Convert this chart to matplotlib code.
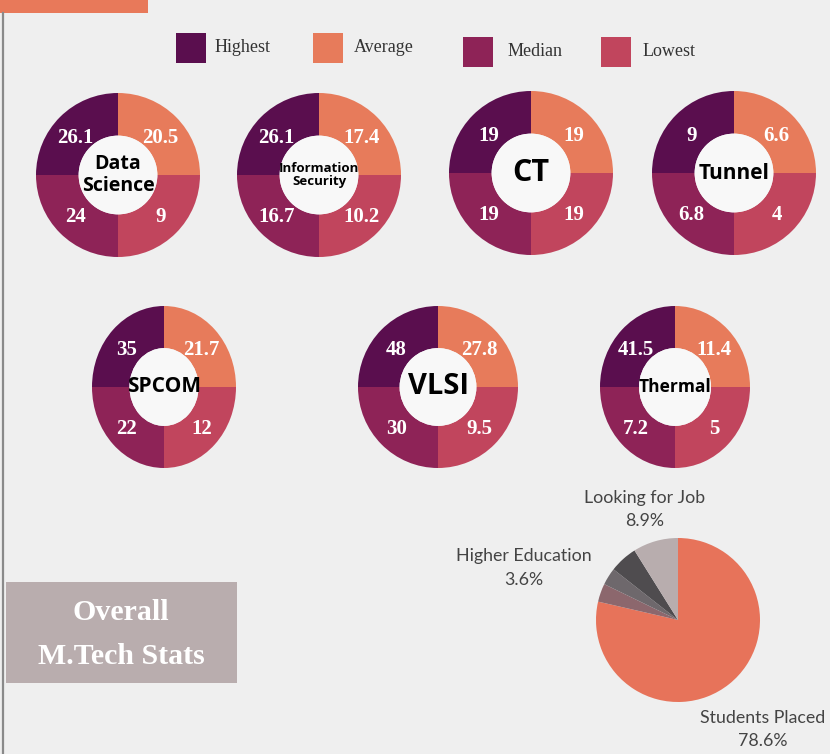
import numpy as np
import matplotlib
matplotlib.use("Agg")
import matplotlib.pyplot as plt
from matplotlib.patches import Rectangle, Ellipse

# ---------------- data ----------------
metrics = ["Highest", "Average", "Median", "Lowest"]
metric_colors = ["#5a0e4e", "#e77b5b", "#8e2357", "#c1455d"]

programs = ["Data\nScience", "Information\nSecurity", "CT", "Tunnel",
            "SPCOM", "VLSI", "Thermal"]
highest = [26.1, 26.1, 19, 9, 35, 48, 41.5]
average = [20.5, 17.4, 19, 6.6, 21.7, 27.8, 11.4]
median = [24, 16.7, 19, 6.8, 22, 30, 7.2]
lowest = [9, 10.2, 19, 4, 12, 9.5, 5]
value_labels = [
    ["26.1", "20.5", "24", "9"],
    ["26.1", "17.4", "16.7", "10.2"],
    ["19", "19", "19", "19"],
    ["9", "6.6", "6.8", "4"],
    ["35", "21.7", "22", "12"],
    ["48", "27.8", "30", "9.5"],
    ["41.5", "11.4", "7.2", "5"],
]

status_labels = ["Students Placed", "", "", "", "Looking for Job"]
status_values = [78.6, 3.6, 3.4, 5.5, 8.9]
status_colors = ["#e7735a", "#8c676d", "#6e686c", "#4f4c4f", "#b8adae"]
higher_edu_label = "Higher Education"
higher_edu_value = 3.6

title_lines = ["Overall", "M.Tech Stats"]

# ---------------- layout (pixels) ----------------
W, H = 830, 754
BG = "#efefef"
fig = plt.figure(figsize=(W / 100, H / 100), dpi=100, facecolor=BG)


def px_axes(x, y, w, h, **kw):
    return fig.add_axes([x / W, 1 - (y + h) / H, w / W, h / H], **kw)


# background decorations
deco = px_axes(0, 0, W, H)
deco.set_xlim(0, W)
deco.set_ylim(H, 0)
deco.axis("off")
deco.add_patch(Rectangle((0, 0), 148, 13, color="#e8795a", lw=0))
deco.plot([3, 3], [13, H], color="#8a8a8a", lw=1.6)
deco.add_patch(Rectangle((6, 582), 231, 101, color="#b9adae", lw=0))
deco.text(121, 612, title_lines[0], ha="center", va="center", color="white",
          fontsize=21.5, family="Liberation Serif", weight="bold")
deco.text(121, 656, title_lines[1], ha="center", va="center", color="white",
          fontsize=21.5, family="Liberation Serif", weight="bold")

# legend
leg_pos = [(176, 33, 215), (313, 33, 354), (463, 37, 508), (601, 37, 643)]
for (sx, sy, tx), name, col in zip(leg_pos, metrics, metric_colors):
    deco.add_patch(Rectangle((sx, sy), 30, 30, color=col, lw=0))
    deco.text(tx, sy + 15, name, ha="left", va="center", fontsize=13,
              family="Liberation Serif", color="#333333")

# donuts: (cx, cy, rx, ry, center font size)
donut_geo = [
    (118, 175, 82, 82, 14),
    (319, 175, 82, 82, 9.5),
    (531, 173, 82, 82, 22),
    (734, 173, 82, 82, 15),
    (164, 387, 72, 81, 15),
    (438, 387, 80, 81, 21),
    (675, 387, 75, 81, 12.5),
]

vals_by_metric = [highest, average, median, lowest]
# wedge order counter-clockwise from 12 o'clock: Highest, Median, Lowest, Average
order = [0, 2, 3, 1]

for i, (cx, cy, rx, ry, fs) in enumerate(donut_geo):
    ax = px_axes(cx - rx, cy - ry, 2 * rx, 2 * ry)
    vals = [vals_by_metric[k][i] for k in order]
    sizes = np.ones(len(vals))
    wedges, _ = ax.pie(sizes, startangle=90, counterclock=True,
                       colors=[metric_colors[k] for k in order],
                       radius=1.0, wedgeprops=dict(width=0.52, linewidth=0))
    ax.set_aspect("auto")
    ax.set_xlim(-1, 1)
    ax.set_ylim(-1, 1)
    ax.axis("off")
    ax.add_patch(Ellipse((0, 0), 0.96, 0.96, color="#f8f8f8", lw=0, zorder=3))
    for w, k in zip(wedges, order):
        th = np.deg2rad((w.theta1 + w.theta2) / 2)
        r = 0.72
        ax.text(r * np.cos(th) * 1.02, r * np.sin(th) * 0.95 - 0.03,
                value_labels[i][k], ha="center", va="center", color="white",
                fontsize=15, weight="bold", family="Liberation Serif", zorder=4)
    ax.text(0, 0, programs[i], ha="center", va="center", fontsize=fs,
            weight="bold", family="Open Sans", color="black", zorder=5,
            linespacing=1.1)

# status pie
pax = px_axes(678 - 82, 620 - 82, 164, 164)
pax.pie(status_values, startangle=90, counterclock=False,
        colors=status_colors, wedgeprops=dict(linewidth=0))
pax.set_aspect("auto")
pax.set_xlim(-1, 1)
pax.set_ylim(-1, 1)
pax.axis("off")

lab_col = "#444444"
lfs = 12.8
deco.text(645, 498, status_labels[4], ha="center", va="center", fontsize=lfs,
          family="Lato", color=lab_col)
deco.text(645, 521, f"{status_values[4]}%", ha="center", va="center",
          fontsize=lfs, family="Lato", color=lab_col)
deco.text(524, 556, higher_edu_label, ha="center", va="center", fontsize=lfs,
          family="Lato", color=lab_col)
deco.text(524, 580, f"{higher_edu_value}%", ha="center", va="center",
          fontsize=lfs, family="Lato", color=lab_col)
deco.text(763, 718, status_labels[0], ha="center", va="center", fontsize=lfs,
          family="Lato", color=lab_col)
deco.text(763, 741, f"{status_values[0]}%", ha="center", va="center",
          fontsize=lfs, family="Lato", color=lab_col)

fig.savefig("out.png", dpi=100, facecolor=BG)
